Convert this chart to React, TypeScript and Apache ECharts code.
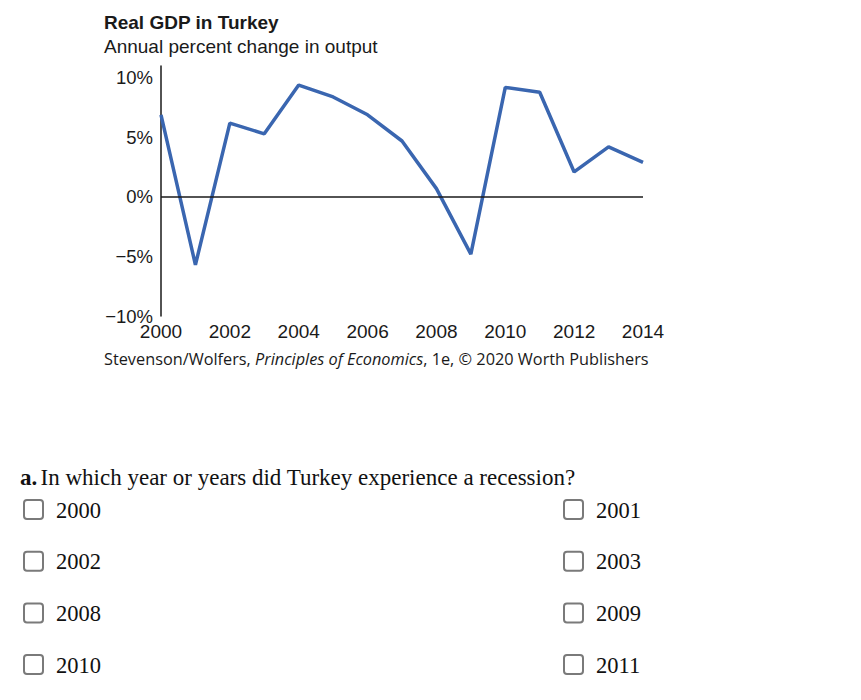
import React, { useEffect, useRef } from "react";
import * as echarts from "echarts";

const years = [2000, 2001, 2002, 2003, 2004, 2005, 2006, 2007, 2008, 2009, 2010, 2011, 2012, 2013, 2014];
const gdpGrowth = [6.9, -5.7, 6.2, 5.3, 9.4, 8.4, 6.9, 4.7, 0.7, -4.8, 9.2, 8.8, 2.1, 4.2, 2.9];
const yTickLabels = ["\u221210%", "\u22125%", "0%", "5%", "10%"];
const xTickLabels = ["2000", "2002", "2004", "2006", "2008", "2010", "2012", "2014"];

const titleText = "Real GDP in Turkey";
const subtitleText = "Annual percent change in output";
const sourceAuthors = "Stevenson/Wolfers, ";
const sourceBook = "Principles of Economics";
const sourceRest = ", 1e, \u00A9 2020 Worth Publishers";
const questionLabel = "a.";
const questionText = "In which year or years did Turkey experience a recession?";
const answerOptions = ["2000", "2001", "2002", "2003", "2008", "2009", "2010", "2011"];

const SANS = "'Liberation Sans', Arial, Helvetica, sans-serif";
const SERIF = "'Liberation Serif', 'Times New Roman', serif";
const SOURCE_FONT = "'Open Sans', 'Noto Sans', sans-serif";

export default function App() {
  const ref = useRef<HTMLDivElement>(null);

  useEffect(() => {
    if (!ref.current) return;
    const chart = echarts.init(ref.current, undefined, { renderer: "svg" });

    const yLabelMap: Record<string, string> = {};
    [-10, -5, 0, 5, 10].forEach((v, i) => (yLabelMap[String(v)] = yTickLabels[i]));

    const graphics: any[] = [
      {
        type: "text",
        x: 104,
        y: 22,
        style: { text: titleText, font: `bold 19px ${SANS}`, fill: "#1a1a1a", textVerticalAlign: "middle", verticalAlign: "middle" },
      },
      {
        type: "text",
        x: 104,
        y: 46,
        style: { text: subtitleText, font: `19px ${SANS}`, fill: "#1a1a1a", textVerticalAlign: "middle", verticalAlign: "middle" },
      },
      {
        type: "text",
        x: 104,
        y: 359,
        style: {
          text: `{n|${sourceAuthors}}{i|${sourceBook}}{n|${sourceRest}}`,
          textVerticalAlign: "middle",
          verticalAlign: "middle",
          rich: {
            n: { font: `16.3px ${SOURCE_FONT}`, fill: "#1a1a1a", color: "#1a1a1a" },
            i: { font: `italic 16.3px ${SOURCE_FONT}`, fill: "#1a1a1a", color: "#1a1a1a" },
          },
        },
      },
      {
        type: "text",
        x: 20,
        y: 477,
        style: {
          text: `{b|${questionLabel}} {n|${questionText}}`,
          textVerticalAlign: "middle",
          verticalAlign: "middle",
          rich: {
            b: { font: `bold 23px ${SERIF}`, fill: "#111", color: "#111" },
            n: { font: `23px ${SERIF}`, fill: "#111", color: "#111" },
          },
        },
      },
    ];

    answerOptions.forEach((opt, i) => {
      const col = i % 2;
      const row = Math.floor(i / 2);
      const bx = col === 0 ? 24 : 564;
      const cy = 510 + row * 51.7;
      graphics.push({
        type: "rect",
        shape: { x: bx, y: cy - 10, width: 19, height: 19, r: 3 },
        style: { fill: "#fff", stroke: "#7a7a7a", lineWidth: 2 },
      });
      graphics.push({
        type: "text",
        x: bx + 32,
        y: cy,
        style: { text: opt, font: `22.5px ${SERIF}`, fill: "#111", textVerticalAlign: "middle", verticalAlign: "middle" },
      });
    });

    chart.setOption({
      animation: false,
      backgroundColor: "#ffffff",
      grid: { left: 161, top: 66, width: 482, height: 250, containLabel: false },
      xAxis: {
        type: "value",
        min: 2000,
        max: 2014,
        interval: 2,
        axisLine: { show: false },
        axisTick: { show: false },
        splitLine: { show: false },
        axisLabel: {
          margin: 6,
          fontSize: 19,
          fontFamily: SANS,
          color: "#1a1a1a",
          formatter: (v: number) => {
            const s = String(v);
            return xTickLabels.includes(s) ? s : "";
          },
        },
      },
      yAxis: {
        type: "value",
        min: -10,
        max: 11,
        interval: 5,
        axisLine: { show: true, onZero: false, lineStyle: { color: "#1a1a1a", width: 1.5 } },
        axisTick: { show: false },
        splitLine: { show: false },
        axisLabel: {
          margin: 8,
          fontSize: 18.5,
          fontFamily: SANS,
          color: "#1a1a1a",
          showMaxLabel: false,
          formatter: (v: number) => yLabelMap[String(v)] ?? "",
        },
      },
      series: [
        {
          type: "line",
          data: years.map((y, i) => [y, gdpGrowth[i]]),
          symbol: "none",
          lineStyle: { color: "#3a66b0", width: 3.5 },
          silent: true,
          markLine: {
            silent: true,
            symbol: "none",
            label: { show: false },
            lineStyle: { color: "#1a1a1a", width: 1.5, type: "solid" },
            data: [{ yAxis: 0 }],
          },
          z: 3,
        },
      ],
      graphic: graphics,
    });

    return () => chart.dispose();
  }, []);

  return (
    <div
      ref={ref}
      style={{ position: "absolute", left: 0, top: 0, width: 861, height: 700, background: "#fff" }}
    />
  );
}
